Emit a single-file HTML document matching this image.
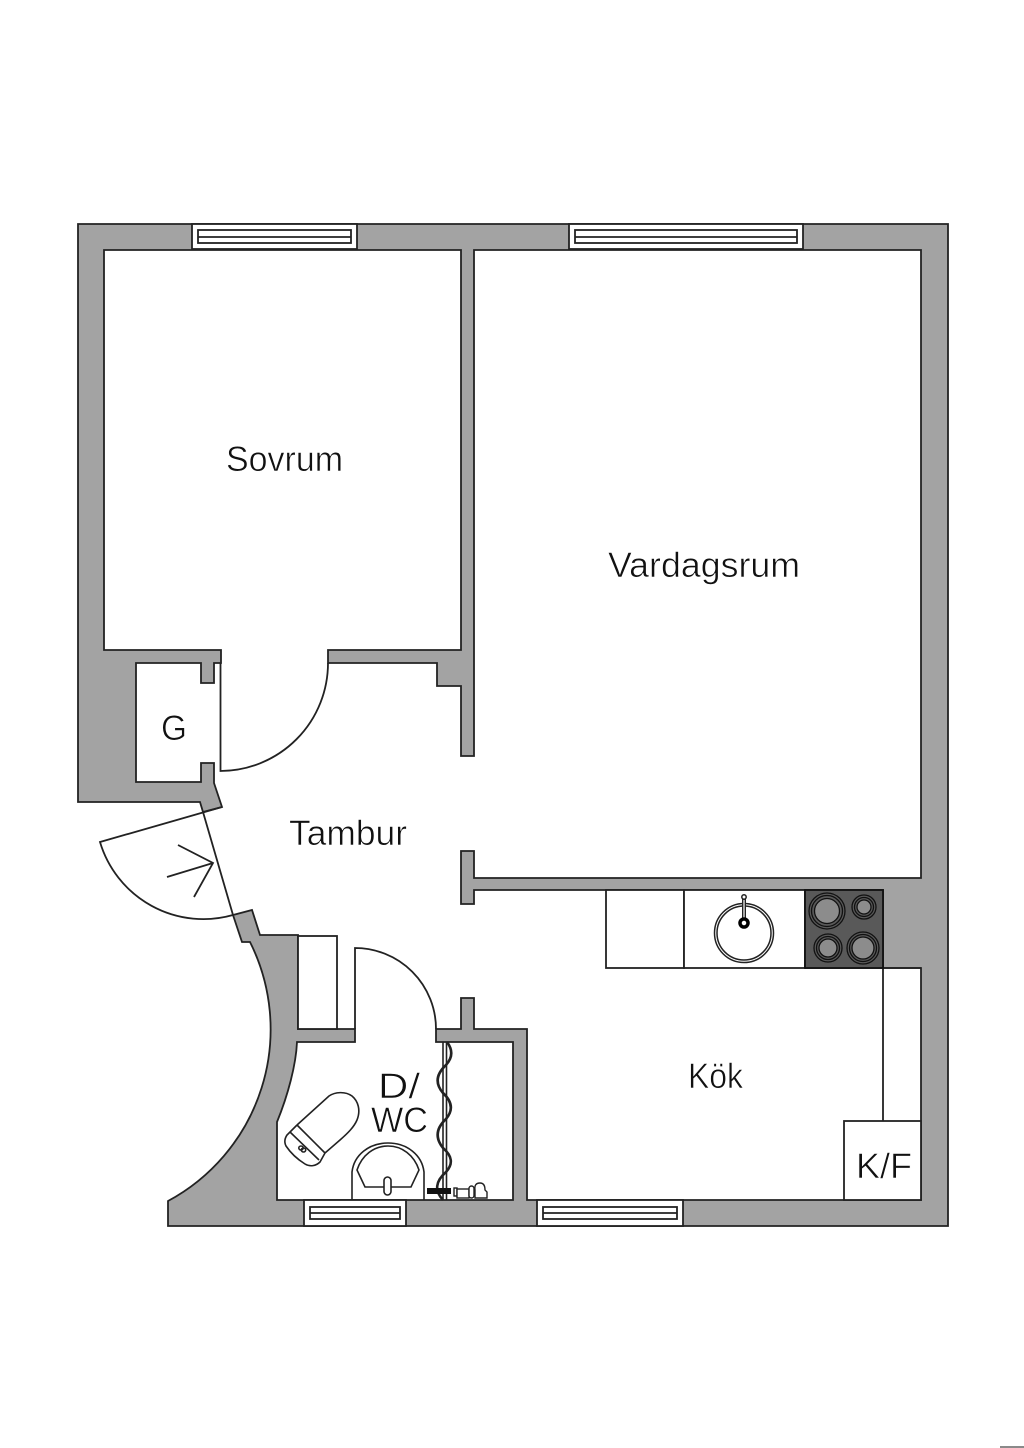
<!DOCTYPE html>
<html><head><meta charset="utf-8"><style>
html,body{margin:0;padding:0;background:#fff;width:1024px;height:1448px;overflow:hidden}
svg{display:block}
text{font-family:"Liberation Sans",sans-serif;font-size:35px;fill:#111;stroke:#fff;stroke-width:.6px}
</style></head><body>
<svg width="1024" height="1448" viewBox="0 0 1024 1448" xmlns="http://www.w3.org/2000/svg">
<rect width="1024" height="1448" fill="#fff"/>
<rect x="1000" y="1446" width="24" height="2" fill="#8a8a8a"/>
<!-- walls -->
<path fill="#a3a3a3" stroke="#222" stroke-width="1.800" stroke-linejoin="miter" d="M78,224 H948 V1226 H168 V1201 A195,195 0 0 0 250,942 H242 L233,915 L252,910 L260,935 H298 V1029 H355 V1042 H297 C296,1065 288,1095 277,1122 V1200 H513 V1042 H436 V1029 H461 V998 H474 V1029 H527 V1200 H921 V968 H883 V890 H474 V904 H461 V851 H474 V878 H921 V250 H474 V756 H461 V686 H437 V663 H328 V650 H461 V250 H104 V650 H221 V663 H214 V683 H201 V663 H136 V782 H201 V763 H214 V783 L222,807 L203,812 L200,802 H78 Z"/>
<g fill="#fff" stroke="#222" stroke-width="1.800">
<!-- windows -->
<rect x="192" y="224" width="165" height="25"/>
<rect x="198" y="230" width="153" height="13"/>
<line x1="198" y1="237" x2="351" y2="237"/>
<rect x="569" y="224" width="234" height="25"/>
<rect x="575" y="230" width="222" height="13"/>
<line x1="575" y1="237" x2="797" y2="237"/>
<rect x="304" y="1200" width="102" height="26"/>
<rect x="310" y="1207" width="90" height="12"/>
<line x1="310" y1="1213" x2="400" y2="1213"/>
<rect x="537" y="1200" width="146" height="26"/>
<rect x="543" y="1207" width="134" height="12"/>
<line x1="543" y1="1213" x2="677" y2="1213"/>
<!-- closet -->
<rect x="298" y="936" width="39" height="93"/>
<!-- counter -->
<rect x="606" y="890" width="78" height="78"/>
<rect x="684" y="890" width="121" height="78"/>
<rect x="844" y="1121" width="77" height="79"/>
</g>
<g fill="none" stroke="#222" stroke-width="1.800">
<line x1="805" y1="968" x2="921" y2="968"/>
<line x1="883" y1="968" x2="883" y2="1121"/>
<!-- doors -->
<path d="M220.500,663 V771 A108,108 0 0 0 328,663"/>
<path d="M222,807 L100,842 A108,108 0 0 0 233,915"/>
<line x1="203" y1="812" x2="233" y2="915"/>
<path d="M167,877 L213,863 M178,845 L213,863 L194,897"/>
<path d="M355,1029 V948 A81,81 0 0 1 436,1029"/>
</g>
<!-- sink -->
<g fill="none" stroke="#222">
<circle cx="744" cy="933" r="29.500" stroke-width="1.500"/>
<circle cx="744" cy="933" r="27" stroke-width="1.500"/>
<line x1="744" y1="923" x2="744" y2="899" stroke-width="4"/>
<line x1="744" y1="923" x2="744" y2="899" stroke="#fff" stroke-width="1.200"/>
<circle cx="744" cy="923" r="4" fill="#fff" stroke="#000" stroke-width="3.500"/>
<circle cx="744" cy="897" r="2.200" fill="#fff" stroke-width="1.500"/>
</g>
<!-- hob -->
<rect x="805" y="890" width="78" height="78" fill="#595959" stroke="#111" stroke-width="1.800"/>
<g stroke="#111" stroke-width="1.300" fill="none">
<circle cx="827" cy="911" r="18"/><circle cx="827" cy="911" r="15.500"/><circle cx="827" cy="911" r="12.500" fill="#8c8c8c"/>
<circle cx="864" cy="907" r="12"/><circle cx="864" cy="907" r="9.500"/><circle cx="864" cy="907" r="7" fill="#8c8c8c"/>
<circle cx="828" cy="948" r="14"/><circle cx="828" cy="948" r="11.500"/><circle cx="828" cy="948" r="9" fill="#8c8c8c"/>
<circle cx="863" cy="948" r="16"/><circle cx="863" cy="948" r="13.500"/><circle cx="863" cy="948" r="11" fill="#8c8c8c"/>
</g>
<!-- toilet -->
<g fill="none" stroke="#222" stroke-width="1.600">
<path d="M297,1125 L329,1096 C335,1092 345,1091 352,1096 C358,1101 361,1110 357,1120 C354,1127 348,1133 340,1140 L325,1153"/>
<path d="M297,1125 L325,1153"/>
<path d="M290,1132 L319,1160"/>
<path d="M297,1125 L287,1135 C285,1138 284,1142 286,1146 C290,1152 297,1159 305,1164 C310,1167 316,1166 320,1162 L325,1153"/>
<ellipse cx="301" cy="1148" rx="2.200" ry="2"/><ellipse cx="303.500" cy="1150" rx="2.200" ry="2"/>
</g>
<!-- basin -->
<g fill="none" stroke="#222" stroke-width="1.600">
<path d="M352,1200 V1172 C354,1155 369,1143 388,1143 C407,1143 422,1155 424,1172 V1200"/>
<path d="M357,1170 L365,1187 H411 L419,1170 C414,1155 402,1146 388,1146 C374,1146 362,1155 357,1170 Z"/>
<rect x="384" y="1177" width="7" height="18" rx="3.500" fill="#fff"/>
</g>
<!-- shower -->
<g fill="none" stroke="#222">
<path d="M447,1042 Q456,1054 446,1065 Q431,1079 443,1093 Q457,1106 446,1119 Q431,1133 443,1148 Q457,1160 446,1172 Q430,1186 443,1200" stroke-width="2.600"/>
<line x1="443" y1="1042" x2="443" y2="1200" stroke-width="1.600"/>
<line x1="446.500" y1="1042" x2="446.500" y2="1200" stroke-width="1.600"/>
</g>
<rect x="427" y="1188" width="24" height="6" fill="#111"/>
<g fill="#fff" stroke="#222" stroke-width="1.400">
<rect x="454" y="1188" width="3" height="8"/>
<rect x="457" y="1189" width="12" height="9"/>
<rect x="469" y="1186" width="5" height="12" rx="2.500"/>
<path d="M475,1198 V1190 Q474,1183 480,1183 Q485,1183 485,1190 L487,1192 V1198 Z"/>
</g>
<!-- labels -->
<text x="226" y="471" textLength="117" lengthAdjust="spacingAndGlyphs">Sovrum</text>
<text x="608" y="577" textLength="192" lengthAdjust="spacingAndGlyphs">Vardagsrum</text>
<text x="289" y="845" textLength="118" lengthAdjust="spacingAndGlyphs">Tambur</text>
<text x="688" y="1088" textLength="55" lengthAdjust="spacingAndGlyphs">Kök</text>
<text x="161" y="740" textLength="26" lengthAdjust="spacingAndGlyphs">G</text>
<text x="378" y="1098" textLength="42" lengthAdjust="spacingAndGlyphs">D/</text>
<text x="371" y="1132" textLength="57" lengthAdjust="spacingAndGlyphs">WC</text>
<text x="856" y="1178" textLength="56" lengthAdjust="spacingAndGlyphs">K/F</text>
</svg>
</body></html>
